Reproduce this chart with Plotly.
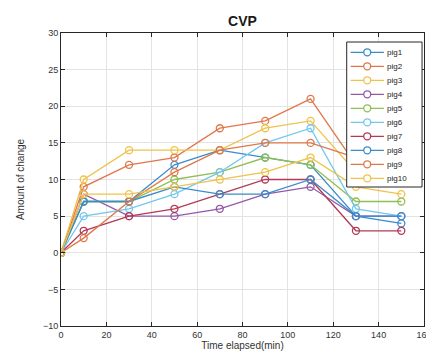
import plotly.graph_objects as go

time_min = [0, 10, 30, 50, 70, 90, 110, 130, 150]
pig_names = ["pig1", "pig2", "pig3", "pig4", "pig5", "pig6", "pig7", "pig8", "pig9", "pig10"]
pig1 = [0, 7, 7, 12, 14, 13, 12, 5, 4]
pig2 = [0, 9, 12, 13, 17, 18, 21, 12, 11]
pig3 = [0, 10, 14, 14, 14, 17, 18, 11, 10]
pig4 = [0, 8, 5, 5, 6, 8, 9, 5, 5]
pig5 = [0, 7, 7, 10, 11, 13, 12, 7, 7]
pig6 = [0, 5, 6, 8, 11, 15, 17, 6, 5]
pig7 = [0, 3, 5, 6, 8, 10, 10, 3, 3]
pig8 = [0, 7, 7, 9, 8, 8, 10, 5, 5]
pig9 = [0, 2, 7, 11, 14, 15, 15, 13, 12]
pig10 = [0, 8, 8, 9, 10, 11, 13, 9, 8]
series = [pig1, pig2, pig3, pig4, pig5, pig6, pig7, pig8, pig9, pig10]

colors = ["#3b8bcb", "#e0774a", "#f0c24a", "#9558a8", "#8fbf55",
          "#74c6ee", "#b23a55", "#3b8bcb", "#e0774a", "#f0c24a"]

FONT = "Liberation Sans, Arial"

fig = go.Figure()
for name, vals, c in zip(pig_names, series, colors):
    fig.add_trace(go.Scatter(
        x=time_min, y=vals, name=name, mode="lines+markers", showlegend=False,
        line=dict(color=c, width=1.3),
        marker=dict(symbol="circle-open", size=7, color=c, line=dict(width=1.3)),
    ))

# plot area in pixels
W, H = 434, 360
ML, MR, MT, MB = 53, 10, 25, 42
PW, PH = W - ML - MR, H - MT - MB


def px(xp):
    return (xp - ML) / PW


def py(yp):
    return (H - MB - yp) / PH


# custom legend (MATLAB-style compact box)
shapes = [dict(type="rect", xref="paper", yref="paper",
               x0=px(345), x1=px(422), y0=py(179), y1=py(34),
               fillcolor="white", line=dict(color="#262626", width=1), layer="above")]
annotations = []
row0, step = 44.3, 14.0
for i, (name, c) in enumerate(zip(pig_names, colors)):
    yy = py(row0 + i * step)
    shapes.append(dict(type="line", xref="paper", yref="paper",
                       x0=px(349), x1=px(383), y0=yy, y1=yy,
                       line=dict(color=c, width=1.3), layer="above"))
    shapes.append(dict(type="circle", xref="paper", yref="paper",
                       xsizemode="pixel", ysizemode="pixel",
                       xanchor=px(366), yanchor=yy,
                       x0=-3.5, x1=3.5, y0=-3.5, y1=3.5,
                       fillcolor="white", line=dict(color=c, width=1.3), layer="above"))
    annotations.append(dict(xref="paper", yref="paper", x=px(384), y=yy,
                            xanchor="left", yanchor="middle", showarrow=False,
                            text=name, font=dict(family=FONT, size=8, color="#222222")))

axis_common = dict(
    showline=True, linecolor="#262626", linewidth=1, mirror="allticks",
    ticks="inside", ticklen=4, tickcolor="#262626",
    showgrid=True, gridcolor="#e3e3e3", gridwidth=1, zeroline=False,
    tickfont=dict(family=FONT, size=9, color="#333333"),
)

fig.update_layout(
    width=W, height=H,
    margin=dict(l=ML, r=MR, t=MT, b=MB),
    paper_bgcolor="white", plot_bgcolor="white",
    title=dict(text="<b>CVP</b>", x=0.5, xref="paper", xanchor="center",
               y=0.965, yref="container", yanchor="middle",
               font=dict(family=FONT, size=14, color="#1a1a1a")),
    xaxis=dict(range=[0, 160], tick0=0, dtick=20,
               title=dict(text="Time elapsed(min)", standoff=2,
                          font=dict(family=FONT, size=10, color="#333333")),
               **axis_common),
    yaxis=dict(range=[-10, 30], tick0=-10, dtick=5,
               title=dict(text="Amount of change", standoff=16,
                          font=dict(family=FONT, size=10, color="#333333")),
               **axis_common),
    shapes=shapes,
    annotations=annotations,
    showlegend=False,
)

fig.write_html("out.html")
